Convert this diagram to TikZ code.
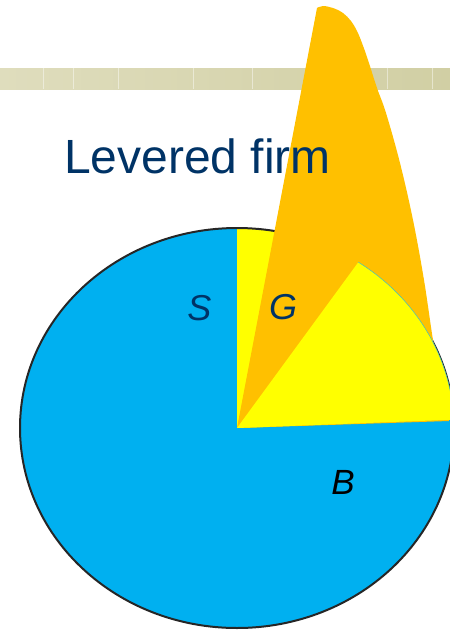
\documentclass[tikz,border=0pt]{standalone}
\usepackage{fontspec}
\setmainfont{Liberation Sans}
\usetikzlibrary{calc}
\begin{document}
\begin{tikzpicture}[x=1pt,y=-1pt,
  pieblue/.style={fill={rgb,255:red,0;green,176;blue,240}},
  pieyellow/.style={fill={rgb,255:red,255;green,255;blue,0}},
  pieorange/.style={fill={rgb,255:red,255;green,192;blue,0}},
  titletext/.style={text={rgb,255:red,0;green,51;blue,102}, font=\fontsize{48}{48}\selectfont, inner sep=0pt},
  slicelabel/.style={font=\fontsize{36}{36}\selectfont\itshape, inner sep=0pt}]
\useasboundingbox (0,0) rectangle (450,630);
\clip (0,0) rectangle (450,630);

% header band
\shade[left color={rgb,255:red,223;green,221;blue,189}, right color={rgb,255:red,209;green,207;blue,164}]
  (0,68) rectangle (450,89);
\foreach \xx in {43,73,118,193,252,387,432}
  \draw[white, opacity=0.45, line width=0.6pt] (\xx,68) -- (\xx,89);

% pie
\coordinate (c) at (237,428);
\path[pieblue] (c) ellipse [x radius=217, y radius=200];
\path[pieyellow] (c) -- ++(0,-200)
  arc[start angle=-90, end angle=-2.4, x radius=217, y radius=200] -- cycle;
\draw[line width=2pt, color={rgb,255:red,38;green,38;blue,38}] (c) ellipse [x radius=217, y radius=200];

% raised slice
\path[pieorange] (c) --
  plot[smooth, tension=0.6] coordinates {(317,8) (323,6) (333,8) (343,13) (351,21) (357,31) (362,43) (368,60) (377,88) (386,113) (400,163) (413,220) (424,280) (433,340) (442,390) (449,421)}
  -- cycle;
\path[pieyellow] (c) -- ($(c)+(-56:217 and 200)$) coordinate (u)
  arc[start angle=-56, end angle=-2.4, x radius=217, y radius=200] -- cycle;
\draw[line width=0.5pt, color={rgb,255:red,60;green,190;blue,200}]
  (u) arc[start angle=-56, end angle=-2.4, x radius=217, y radius=200];

% labels
\node[titletext, anchor=base west] (title) at (64,173) {Levered firm};
\node[slicelabel, text={rgb,255:red,0;green,51;blue,102}, anchor=base] (s) at (199.5,320) {S};
\node[slicelabel, text={rgb,255:red,0;green,51;blue,102}, anchor=base] (g) at (283,319) {G};
\node[slicelabel, font=\fontsize{35}{35}\selectfont\itshape, text=black, anchor=base] (b) at (343,494) {B};
\end{tikzpicture}
\end{document}
